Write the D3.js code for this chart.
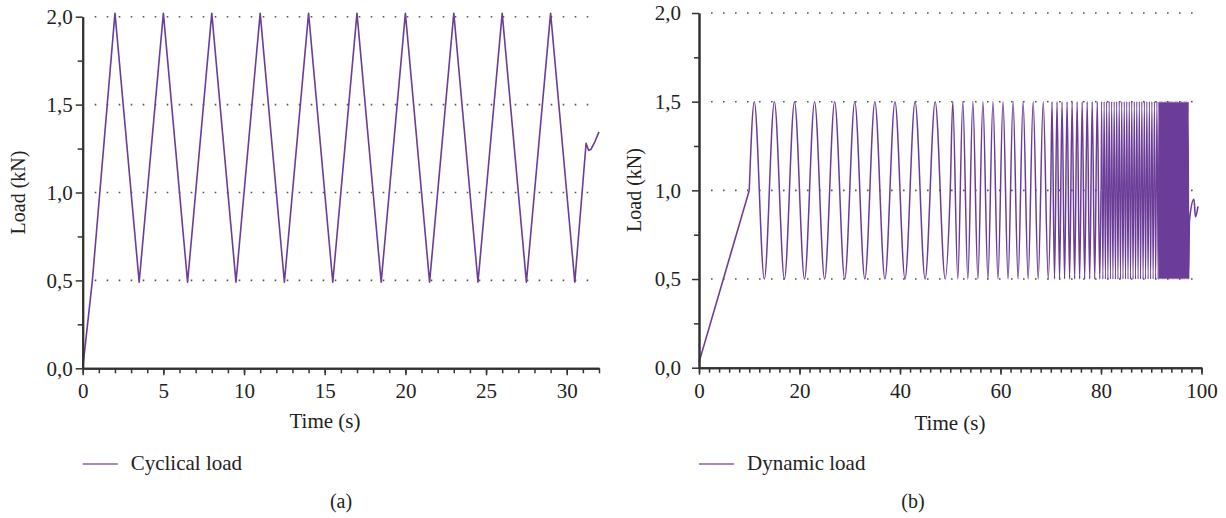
<!DOCTYPE html>
<html>
<head>
<meta charset="utf-8">
<script src="https://cdn.jsdelivr.net/npm/d3@7"></script>
<style>
  body { margin: 0; background: #fff; }
  svg text { font-family: "Liberation Serif", "Times New Roman", serif; fill: #222; }
</style>
</head>
<body>
<svg id="chart" width="1226" height="518"></svg>
<script>
// ---- data ----
const loadTicks = [0, 0.5, 1, 1.5, 2]
const loadMinor = [0.25, 0.75, 1.25, 1.75]
const gridLoads = [0.5, 1, 1.5, 2]

// (a) cyclical load: triangle wave, vertices only
const cycTimeTicks = [0, 5, 10, 15, 20, 25, 30]
const cycTime = [0, 0.6, 2, 3.5, 5, 6.5, 8, 9.5, 11, 12.5, 14, 15.5, 17, 18.5, 20, 21.5,
                 23, 24.5, 26, 27.5, 29, 30.5, 31.2, 31.35, 31.5, 31.75, 32]
const cycLoad = [0, 0.5, 2.02, 0.49, 2.02, 0.49, 2.02, 0.49, 2.02, 0.49, 2.02, 0.49, 2.02, 0.49,
                 2.02, 0.49, 2.02, 0.49, 2.02, 0.49, 2.02, 0.49, 1.28, 1.24, 1.245, 1.29, 1.345]

// (b) dynamic load: ramp, then sine sweep (extrema + mean crossings), then a short tail
const dynTimeTicks = [0, 20, 40, 60, 80, 100]
const dynRampTime = [0, 10]
const dynRampLoad = [0.03, 1.0]
const dynLevels = [0.5, 1.0, 1.5]   // trough, mean, peak
const dynCrossTime = [10, 50, 70, 80, 91.5]
const dynPeakTime = [
  11, 15, 19, 23, 27, 31, 35, 39, 43, 47,
  50.5, 52.5, 54.5, 56.5, 58.5, 60.5, 62.5, 64.5, 66.5, 68.5,
  70.25, 71.25, 72.25, 73.25, 74.25, 75.25, 76.25, 77.25, 78.25, 79.25,
  80.125, 80.625, 81.125, 81.625, 82.125, 82.625, 83.125, 83.625, 84.125, 84.625,
  85.125, 85.625, 86.125, 86.625, 87.125, 87.625, 88.125, 88.625, 89.125, 89.625,
  90.125, 90.625, 91.125,
  91.5625, 91.8125, 92.0625, 92.3125, 92.5625, 92.8125, 93.0625, 93.3125,
  93.5625, 93.8125, 94.0625, 94.3125, 94.5625, 94.8125, 95.0625, 95.3125,
  95.5625, 95.8125, 96.0625, 96.3125, 96.5625, 96.8125, 97.0625, 97.3125
]
const dynTroughTime = [
  13, 17, 21, 25, 29, 33, 37, 41, 45, 49,
  51.5, 53.5, 55.5, 57.5, 59.5, 61.5, 63.5, 65.5, 67.5, 69.5,
  70.75, 71.75, 72.75, 73.75, 74.75, 75.75, 76.75, 77.75, 78.75, 79.75,
  80.375, 80.875, 81.375, 81.875, 82.375, 82.875, 83.375, 83.875, 84.375, 84.875,
  85.375, 85.875, 86.375, 86.875, 87.375, 87.875, 88.375, 88.875, 89.375, 89.875,
  90.375, 90.875, 91.375,
  91.6875, 91.9375, 92.1875, 92.4375, 92.6875, 92.9375, 93.1875, 93.4375,
  93.6875, 93.9375, 94.1875, 94.4375, 94.6875, 94.9375, 95.1875, 95.4375,
  95.6875, 95.9375, 96.1875, 96.4375, 96.6875, 96.9375, 97.1875, 97.4375
]
const dynTailTime = [97.6, 98.5, 98.8, 99.3]
const dynTailLoad = [0.83, 0.95, 0.85, 0.91]

// ---- drawing ----
const LINE = "#6b3d98"
const INK = "#333"
const svg = d3.select("#chart")
const fmtLoad = v => d3.format(".1f")(v).replace(".", ",")

function drawPanel(p) {
  const g = svg.append("g")
  const x = d3.scaleLinear().domain(p.xDomain).range(p.xRange)
  const y = d3.scaleLinear().domain([0, 2]).range(p.yRange)

  // dotted grid lines
  g.selectAll(".grid").data(gridLoads).enter().append("line")
    .attr("x1", x(0) + 12).attr("x2", x(p.xDomain[1]) - 4)
    .attr("y1", d => y(d)).attr("y2", d => y(d))
    .attr("stroke", "#555").attr("stroke-width", 1.6)
    .attr("stroke-dasharray", "1.6 10.4")

  p.series(g, x, y)

  // axes: minor ticks first, then majors with labels
  const y0 = y(0), x0 = x(0)
  g.append("g").attr("transform", `translate(0,${y0})`)
    .call(d3.axisBottom(x).tickValues(p.xMinor).tickSize(5).tickSizeOuter(0).tickFormat(""))
  g.append("g").attr("transform", `translate(0,${y0})`)
    .call(d3.axisBottom(x).tickValues(p.xTicks).tickSize(7).tickSizeOuter(0).tickPadding(8))
  g.append("g").attr("transform", `translate(${x0},0)`)
    .call(d3.axisLeft(y).tickValues(loadMinor).tickSize(5).tickSizeOuter(0).tickFormat(""))
  g.append("g").attr("transform", `translate(${x0},0)`)
    .call(d3.axisLeft(y).tickValues(loadTicks).tickSize(7).tickSizeOuter(0)
      .tickPadding(p.yPad).tickFormat(fmtLoad))

  g.selectAll(".domain").attr("stroke", INK).attr("stroke-width", 2)
  g.selectAll(".tick line").attr("stroke", INK).attr("stroke-width", 1.5)
  g.selectAll(".tick text").attr("font-size", 21)

  // axis titles
  g.append("text")
    .attr("x", p.xTitle[0]).attr("y", p.xTitle[1])
    .attr("text-anchor", "middle").attr("font-size", 21)
    .text("Time (s)")
  g.append("text")
    .attr("transform", `translate(${p.yTitle[0]},${p.yTitle[1]}) rotate(-90)`)
    .attr("text-anchor", "middle").attr("dy", "0.35em")
    .attr("font-size", 20)
    .text("Load (kN)")

  // legend
  g.append("line")
    .attr("x1", x0).attr("x2", x0 + 35).attr("y1", 464).attr("y2", 464)
    .attr("stroke", LINE).attr("stroke-width", 1.6).attr("opacity", 0.8)
  g.append("text")
    .attr("x", x0 + 48).attr("y", 470)
    .attr("font-size", 21)
    .text(p.legend)

  // panel caption
  g.append("text")
    .attr("x", p.caption[0]).attr("y", 508)
    .attr("text-anchor", "middle").attr("font-size", 20)
    .text(p.caption[1])
}

drawPanel({
  xDomain: [0, 32], xRange: [82.7, 599], yRange: [368.3, 16.7],
  xTicks: cycTimeTicks, xMinor: d3.range(0, 33, 1), yPad: 3,
  xTitle: [325, 428], yTitle: [18, 192.5],
  legend: "Cyclical load", caption: [341, "(a)"],
  series: (g, x, y) => {
    const pts = cycTime.map((t, i) => [t, cycLoad[i]])
    g.append("path").datum(pts)
      .attr("fill", "none").attr("stroke", LINE).attr("stroke-width", 1.6)
      .attr("stroke-linejoin", "round")
      .attr("d", d3.line().x(d => x(d[0])).y(d => y(d[1])))
  }
})

drawPanel({
  xDomain: [0, 100], xRange: [699, 1201.5], yRange: [367.7, 13],
  xTicks: dynTimeTicks, xMinor: d3.range(0, 101, 2), yPad: 11,
  xTitle: [950, 430], yTitle: [634, 190],
  legend: "Dynamic load", caption: [913, "(b)"],
  series: (g, x, y) => {
    const ramp = dynRampTime.map((t, i) => [t, dynRampLoad[i]])
    const sweep = [
      ...dynCrossTime.map(t => [t, dynLevels[1]]),
      ...dynPeakTime.map(t => [t, dynLevels[2]]),
      ...dynTroughTime.map(t => [t, dynLevels[0]])
    ].sort((a, b) => a[0] - b[0])
    const tail = dynTailTime.map((t, i) => [t, dynTailLoad[i]])
    const line = d3.line().x(d => x(d[0])).y(d => y(d[1]))
    const smooth = d3.line().x(d => x(d[0])).y(d => y(d[1])).curve(d3.curveMonotoneX)
    // stroke weight per stretch, so the dense part keeps some texture like the original
    const parts = [
      { pts: sweep.filter(d => d[0] <= 80), w: 1.5 },
      { pts: sweep.filter(d => d[0] >= 80 && d[0] <= 91.5), w: 1.2 },
      { pts: sweep.filter(d => d[0] >= 91.5).concat(tail), w: 1.6 }
    ]
    g.append("path").datum(ramp)
      .attr("fill", "none").attr("stroke", LINE).attr("stroke-width", 1.6)
      .attr("d", line)
    parts.forEach(part => {
      g.append("path").datum(part.pts)
        .attr("fill", "none").attr("stroke", LINE).attr("stroke-width", part.w)
        .attr("d", smooth)
    })
  }
})
</script>
</body>
</html>
